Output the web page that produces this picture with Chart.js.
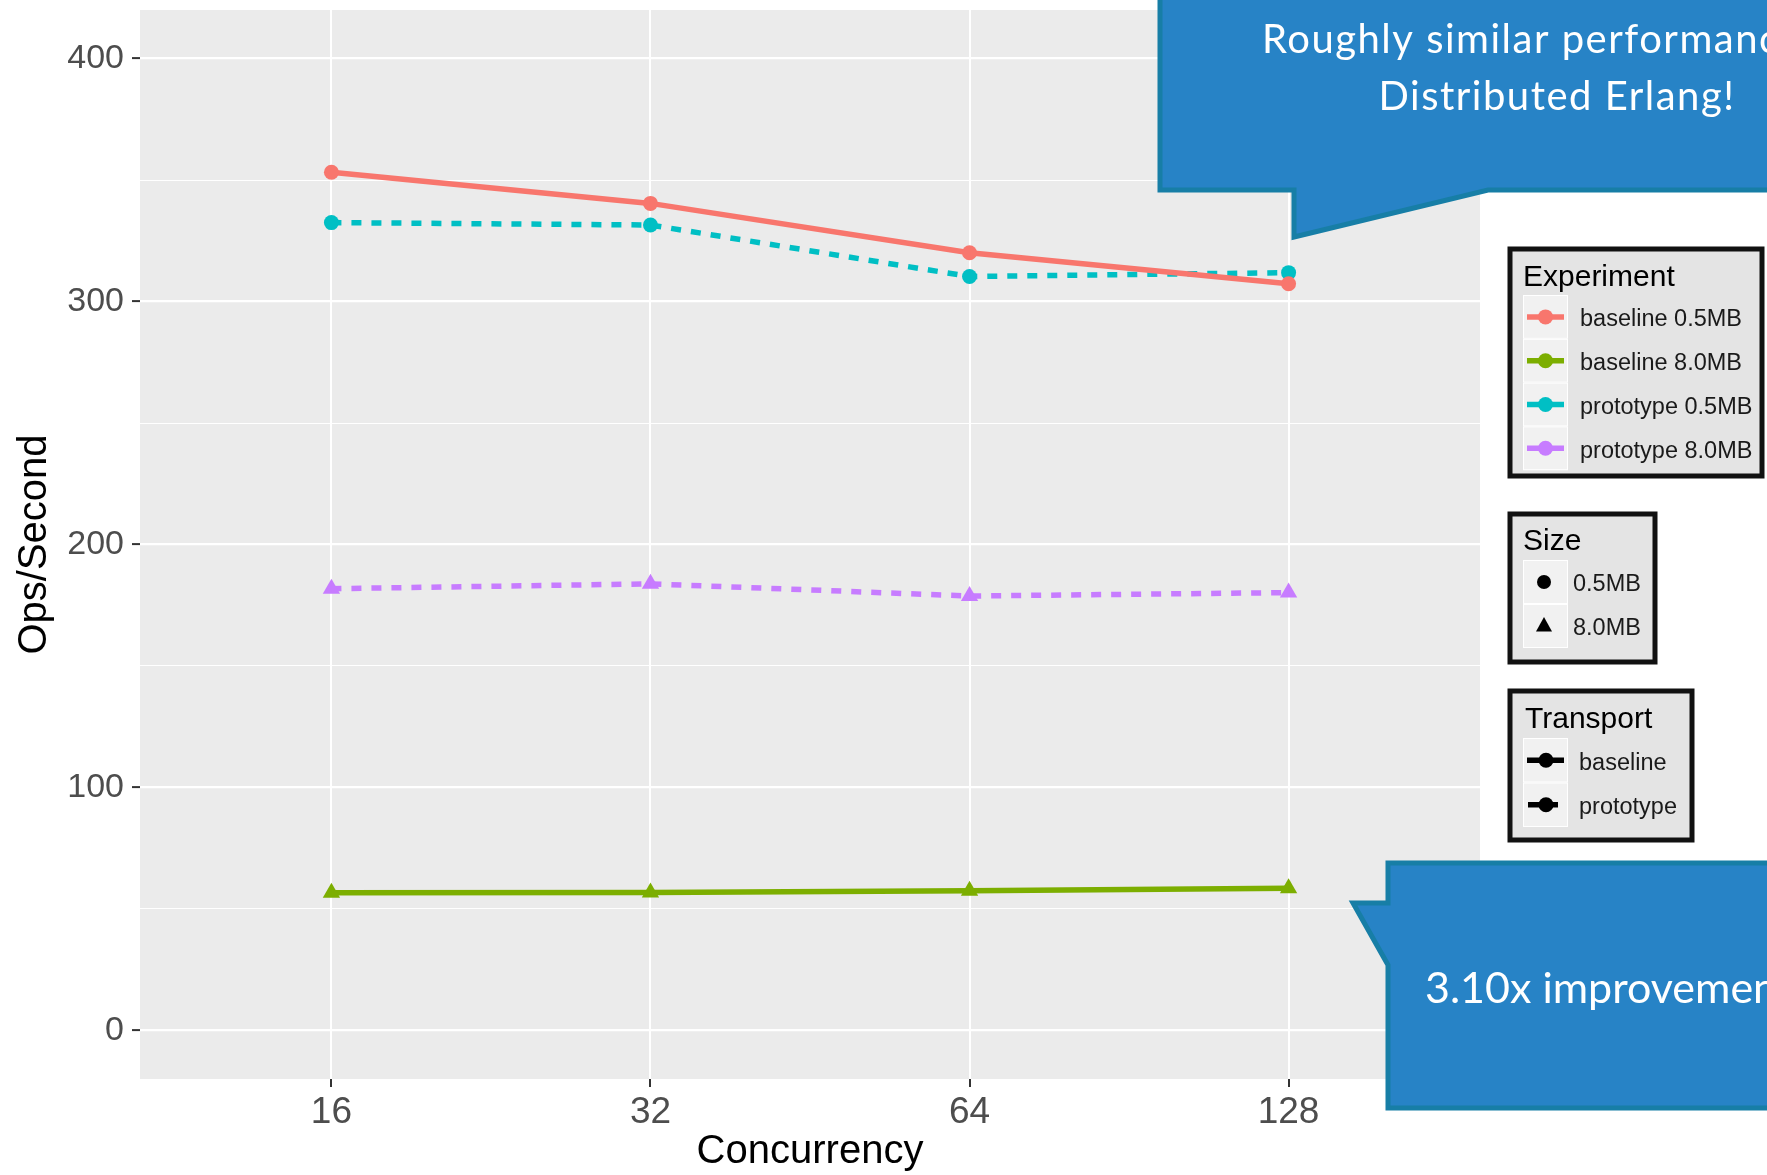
<!DOCTYPE html>
<html>
<head>
<meta charset="utf-8">
<script src="https://cdn.jsdelivr.net/npm/chart.js@4/dist/chart.umd.min.js"></script>
<style>
  html, body { margin: 0; padding: 0; background: #ffffff; }
  canvas { display: block; }
</style>
</head>
<body>
<canvas id="chart" width="1767" height="1175"></canvas>
<script>
// Throughput per concurrency level, by transport and payload size
const concurrency = ['16', '32', '64', '128'];
const baseline05  = [353.2, 340.4, 320.1, 307.3];
const baseline80  = [56.7, 56.8, 57.5, 58.5];
const prototype05 = [332.5, 331.5, 310.3, 311.9];
const prototype80 = [181.8, 183.8, 178.8, 180.2];
const yTicks = [0, 50, 100, 150, 200, 250, 300, 350, 400];

const seriesNames  = ['baseline 0.5MB', 'baseline 8.0MB', 'prototype 0.5MB', 'prototype 8.0MB'];
const seriesColors = ['#F8766D', '#7CAE00', '#00BFC4', '#C77CFF'];
const sizeNames = ['0.5MB', '8.0MB'];
const transportNames = ['baseline', 'prototype'];
const noteTop = ['Roughly similar performance to', 'Distributed Erlang!'];
const noteBottom = '3.10x improvement';

const SANS = '"Liberation Sans", Arial, Helvetica, sans-serif';
const NARROW = '"Liberation Sans Narrow", "Arial Narrow", "Liberation Sans", Arial, sans-serif';
const NOTE_FONT = 'Lato, "Open Sans", sans-serif';

const seriesValues = [baseline05, baseline80, prototype05, prototype80];
const datasets = seriesValues.map((vals, i) => {
  const isPrototype = i >= 2;
  const isLarge = i % 2 === 1;
  return {
    label: seriesNames[i],
    data: vals.map((v, k) => ({ x: k, y: v })),
    borderColor: seriesColors[i],
    backgroundColor: seriesColors[i],
    borderWidth: 5.5,
    borderDash: isPrototype ? [10, 10] : [],
    borderCapStyle: 'butt',
    pointStyle: isLarge ? 'triangle' : 'circle',
    pointRadius: isLarge ? 10 : 7.5,
    pointBorderWidth: 0,
    pointHoverRadius: isLarge ? 10 : 7.5,
    tension: 0,
    fill: false
  };
});

// grey panel behind the grid
const panelBackground = {
  id: 'panelBackground',
  beforeDraw(chart) {
    const { ctx, chartArea: a } = chart;
    ctx.save();
    ctx.fillStyle = '#EBEBEB';
    ctx.fillRect(a.left, a.top, a.right - a.left, a.bottom - a.top);
    ctx.restore();
  }
};

function legendBox(ctx, x, y, w, h) {
  ctx.fillStyle = '#E4E4E4';
  ctx.fillRect(x, y, w, h);
  ctx.lineWidth = 5;
  ctx.strokeStyle = '#111111';
  ctx.strokeRect(x, y, w, h);
}

function keyCell(ctx, x, y, w, h) {
  ctx.fillStyle = '#F1F1F1';
  ctx.fillRect(x, y, w, h);
  ctx.lineWidth = 1;
  ctx.strokeStyle = '#FFFFFF';
  ctx.strokeRect(x + 0.5, y + 0.5, w - 1, h - 1);
}

function legendTitle(ctx, text, x, y) {
  ctx.fillStyle = '#000000';
  ctx.font = '30px ' + SANS;
  ctx.textAlign = 'left';
  ctx.textBaseline = 'alphabetic';
  ctx.fillText(text, x, y);
}

function legendLabel(ctx, text, x, y) {
  ctx.fillStyle = '#1A1A1A';
  ctx.font = '23.5px ' + SANS;
  ctx.textAlign = 'left';
  ctx.textBaseline = 'middle';
  ctx.fillText(text, x, y + 3);
}

function dot(ctx, x, y, r, color) {
  ctx.fillStyle = color;
  ctx.beginPath();
  ctx.arc(x, y, r, 0, Math.PI * 2);
  ctx.fill();
}

function seg(ctx, x1, x2, y, color) {
  ctx.strokeStyle = color;
  ctx.lineWidth = 5.5;
  ctx.lineCap = 'butt';
  ctx.beginPath();
  ctx.moveTo(x1, y);
  ctx.lineTo(x2, y);
  ctx.stroke();
}

// the three guide boxes at the right of the panel
const guides = {
  id: 'guides',
  afterDraw(chart) {
    const ctx = chart.ctx;
    ctx.save();
    const keyX = 1523, keyW = 45;

    // Experiment
    legendBox(ctx, 1510, 249, 252, 227);
    legendTitle(ctx, 'Experiment', 1523, 286);
    seriesNames.forEach((name, i) => {
      const top = 295 + i * 43.8;
      const cy = top + 21.9;
      keyCell(ctx, keyX, top, keyW, 43.8);
      seg(ctx, keyX + 4, keyX + keyW - 4, cy, seriesColors[i]);
      dot(ctx, keyX + keyW / 2, cy, 7.5, seriesColors[i]);
      legendLabel(ctx, name, 1580, cy);
    });

    // Size
    legendBox(ctx, 1510, 514, 145, 148);
    legendTitle(ctx, 'Size', 1523, 550);
    sizeNames.forEach((name, i) => {
      const top = 560 + i * 44;
      const cy = top + 22;
      keyCell(ctx, keyX, top, keyW, 44);
      const cx = keyX + 21;
      if (i === 0) {
        dot(ctx, cx, cy, 7, '#000000');
      } else {
        ctx.fillStyle = '#000000';
        ctx.beginPath();
        ctx.moveTo(cx, cy - 9);
        ctx.lineTo(cx + 8, cy + 5.5);
        ctx.lineTo(cx - 8, cy + 5.5);
        ctx.closePath();
        ctx.fill();
      }
      legendLabel(ctx, name, 1573, cy);
    });

    // Transport
    legendBox(ctx, 1510, 691, 182, 149);
    legendTitle(ctx, 'Transport', 1525, 728);
    transportNames.forEach((name, i) => {
      const top = 738 + i * 44.5;
      const cy = top + 22.25;
      keyCell(ctx, keyX, top, keyW, 44.5);
      if (i === 0) {
        seg(ctx, keyX + 4, keyX + keyW - 4, cy, '#000000');
      } else {
        seg(ctx, keyX + 5, keyX + 17, cy, '#000000');
        seg(ctx, keyX + 27, keyX + 35, cy, '#000000');
      }
      dot(ctx, keyX + 23, cy, 7.5, '#000000');
      legendLabel(ctx, name, 1579, cy);
    });
    ctx.restore();
  }
};

// speech-bubble notes drawn over the figure
const notes = {
  id: 'notes',
  afterDraw(chart) {
    const ctx = chart.ctx;
    ctx.save();
    const fill = '#2783C6', edge = '#177EA6';
    ctx.lineJoin = 'miter';
    ctx.lineWidth = 5;

    // upper note, tail pointing down-left
    ctx.beginPath();
    ctx.moveTo(1160, -20);
    ctx.lineTo(1160, 190);
    ctx.lineTo(1294, 190);
    ctx.lineTo(1294, 237);
    ctx.lineTo(1488, 190);
    ctx.lineTo(1820, 190);
    ctx.lineTo(1820, -20);
    ctx.closePath();
    ctx.fillStyle = fill;
    ctx.fill();
    ctx.strokeStyle = edge;
    ctx.stroke();

    ctx.fillStyle = '#FFFFFF';
    ctx.font = '40px ' + NOTE_FONT;
    ctx.textBaseline = 'alphabetic';
    if ('letterSpacing' in ctx) ctx.letterSpacing = '1.5px';
    ctx.textAlign = 'left';
    ctx.fillText(noteTop[0], 1262, 53);
    ctx.textAlign = 'center';
    ctx.fillText(noteTop[1], 1557, 110);

    // lower note, tail pointing left
    ctx.beginPath();
    ctx.moveTo(1388, 863);
    ctx.lineTo(1820, 863);
    ctx.lineTo(1820, 1108);
    ctx.lineTo(1388, 1108);
    ctx.lineTo(1388, 965);
    ctx.lineTo(1353, 903);
    ctx.lineTo(1388, 903);
    ctx.closePath();
    ctx.fillStyle = fill;
    ctx.fill();
    ctx.strokeStyle = edge;
    ctx.stroke();

    ctx.fillStyle = '#FFFFFF';
    ctx.font = '43px ' + NOTE_FONT;
    if ('letterSpacing' in ctx) ctx.letterSpacing = '0px';
    ctx.textAlign = 'left';
    ctx.fillText(noteBottom, 1425, 1003);
    ctx.restore();
  }
};

// fixed axis sizes so the panel sits at a known place
function fixX(s) {
  s.height = 96;
  s.paddingLeft = 0; s.paddingRight = 0;
}
function fixY(s) {
  s.width = 140;
  s.paddingTop = 0; s.paddingBottom = 0;
}

new Chart(document.getElementById('chart'), {
  type: 'line',
  data: { datasets },
  plugins: [panelBackground, guides, notes],
  options: {
    responsive: false,
    animation: false,
    devicePixelRatio: 1,
    layout: { padding: { left: 0, right: 287, top: 10, bottom: 0 } },
    plugins: { legend: { display: false }, tooltip: { enabled: false } },
    scales: {
      x: {
        type: 'linear',
        min: -0.6,
        max: 3.6,
        afterBuildTicks: s => { s.ticks = concurrency.map((_, i) => ({ value: i })); },
        afterFit: fixX,
        ticks: {
          autoSkip: false,
          maxRotation: 0,
          padding: 4,
          color: '#4D4D4D',
          font: { family: NARROW, size: 37 },
          callback: v => concurrency[v]
        },
        grid: { color: '#FFFFFF', lineWidth: 2, tickColor: '#333333', tickLength: 8, tickWidth: 2 },
        border: { display: false },
        title: {
          display: true, text: 'Concurrency', color: '#000000',
          font: { family: SANS, size: 40, lineHeight: 1 },
          padding: { top: 0, bottom: 3 }
        }
      },
      y: {
        type: 'linear',
        min: -20,
        max: 420,
        afterBuildTicks: s => { s.ticks = yTicks.map(v => ({ value: v })); },
        afterFit: fixY,
        ticks: {
          padding: 8,
          color: '#4D4D4D',
          font: { family: SANS, size: 34 },
          callback: v => (v % 100 === 0 ? String(v) : '')
        },
        grid: {
          color: '#FFFFFF',
          lineWidth: c => (c.tick && c.tick.value % 100 === 0 ? 2.2 : 1),
          tickColor: c => (c.tick && c.tick.value % 100 === 0 ? '#333333' : 'rgba(0,0,0,0)'),
          tickLength: 8,
          tickWidth: 2
        },
        border: { display: false },
        title: {
          display: true, text: 'Ops/Second', color: '#000000',
          font: { family: SANS, size: 40, lineHeight: 1 },
          padding: { top: 15, bottom: 0 }
        }
      }
    }
  }
});
</script>
</body>
</html>
